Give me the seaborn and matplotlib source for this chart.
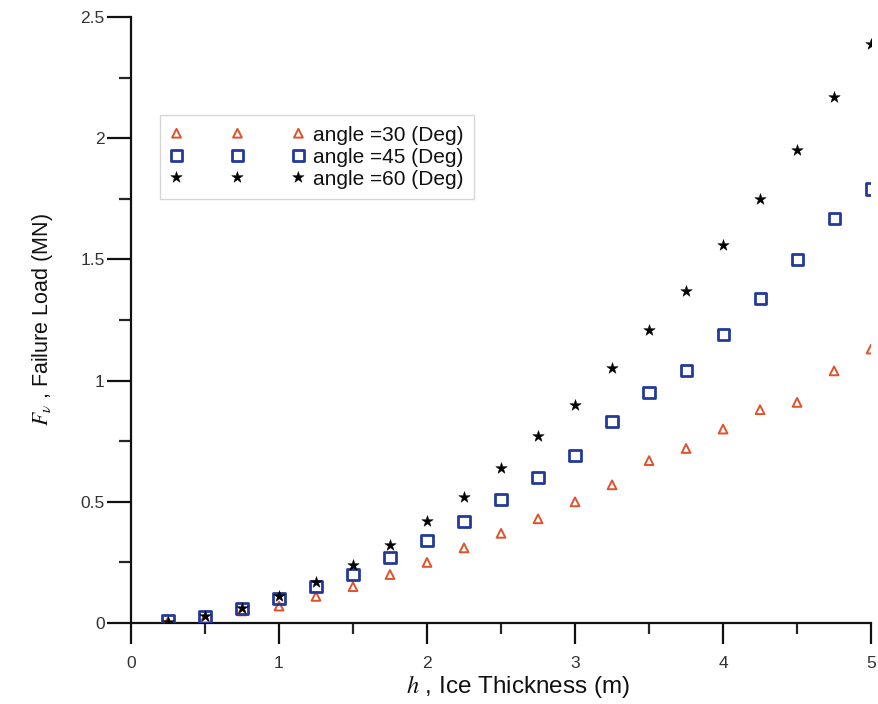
import matplotlib
matplotlib.use("Agg")
import matplotlib.pyplot as plt
import seaborn as sns
import numpy as np
import pandas as pd

h = [0.25, 0.5, 0.75, 1.0, 1.25, 1.5, 1.75, 2.0, 2.25, 2.5,
     2.75, 3.0, 3.25, 3.5, 3.75, 4.0, 4.25, 4.5, 4.75, 5.0]
f30 = [0.005, 0.02, 0.05, 0.07, 0.11, 0.15, 0.20, 0.25, 0.31, 0.37,
       0.43, 0.50, 0.57, 0.67, 0.72, 0.80, 0.88, 0.91, 1.04, 1.13]
f45 = [0.01, 0.025, 0.06, 0.10, 0.15, 0.20, 0.27, 0.34, 0.42, 0.51,
       0.60, 0.69, 0.83, 0.95, 1.04, 1.19, 1.34, 1.50, 1.67, 1.79]
f60 = [0.005, 0.03, 0.06, 0.11, 0.17, 0.24, 0.32, 0.42, 0.52, 0.64,
       0.77, 0.90, 1.05, 1.21, 1.37, 1.56, 1.75, 1.95, 2.17, 2.39]
labels = ["angle =30 (Deg)", "angle =45 (Deg)", "angle =60 (Deg)"]
xticks = [0, 1, 2, 3, 4, 5]
yticks = [0, 0.5, 1, 1.5, 2, 2.5]
ytick_labels = ["0", "0.5", "1", "1.5", "2", "2.5"]

sns.set_style("ticks")
plt.rcParams['font.family'] = ['Liberation Sans', 'DejaVu Sans']
plt.rcParams['mathtext.fontset'] = 'stix'

fig = plt.figure(figsize=(8.79, 7.04), dpi=100)
ax = fig.add_axes([0.149, 0.115, 0.842, 0.861])

df30 = pd.DataFrame({"h": h, "F": f30})
df45 = pd.DataFrame({"h": h, "F": f45})
df60 = pd.DataFrame({"h": h, "F": f60})

sns.scatterplot(data=df30, x="h", y="F", ax=ax, marker="^", s=40,
                facecolors="none", edgecolor="#E0522C", linewidth=1.4,
                label=labels[0], zorder=3)
sns.scatterplot(data=df45, x="h", y="F", ax=ax, marker="s", s=64,
                facecolors="none", edgecolor="#233A9C", linewidth=2.0,
                label=labels[1], zorder=4)
sns.scatterplot(data=df60, x="h", y="F", ax=ax, marker="*", s=75,
                color="black", edgecolor="black", linewidth=0.3,
                label=labels[2], zorder=5)

ax.set_xlim(0, 5)
ax.set_ylim(0, 2.5)
ax.set_xticks(xticks)
ax.set_xticklabels([str(v) for v in xticks])
ax.set_yticks(yticks)
ax.set_yticklabels(ytick_labels)
ax.set_xticks(np.arange(0.5, 5, 1.0), minor=True)
ax.set_yticks(np.arange(0.25, 2.5, 0.5), minor=True)
ax.tick_params(which="major", direction="out", width=1.6,
               labelsize=12.5, colors="#111111", labelcolor="#333333")
ax.tick_params(axis="x", which="major", length=15, pad=9)
ax.tick_params(axis="y", which="major", length=17, pad=2)
ax.tick_params(axis="x", which="minor", direction="out", length=8, width=1.6)
ax.tick_params(axis="y", which="minor", direction="out", length=9, width=1.6)
for s in ["left", "bottom"]:
    ax.spines[s].set_linewidth(1.6)
    ax.spines[s].set_color("#111111")
for s in ["top", "right"]:
    ax.spines[s].set_visible(False)

ax.set_xlabel(r"$h$ , Ice Thickness (m)", fontsize=17.5, color="#111111", labelpad=1)
ax.xaxis.set_label_coords(0.523, -0.083)
ax.set_ylabel(r"$F_{\nu}$ , Failure Load (MN)", fontsize=15.5, color="#111111",
              labelpad=18)

leg = ax.legend(loc="upper left", bbox_to_anchor=(0.039, 0.838),
                borderaxespad=0, scatterpoints=3, scatteryoffsets=[0.5],
                fontsize=15, handlelength=6.45, handletextpad=0.4,
                labelspacing=0.15, frameon=True, fancybox=False,
                borderpad=0.5, markerscale=1.0)
leg.get_frame().set_edgecolor("#cccccc")
leg.get_frame().set_linewidth(1.0)
for t in leg.get_texts():
    t.set_color("#111111")

fig.savefig("out.png", dpi=100)
